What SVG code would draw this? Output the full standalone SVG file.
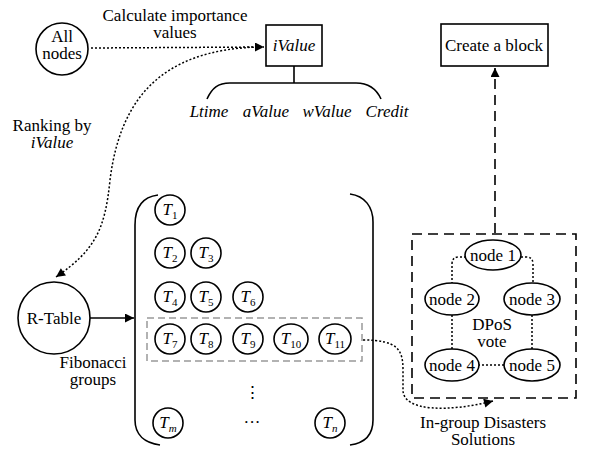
<svg xmlns="http://www.w3.org/2000/svg" width="592" height="455" viewBox="0 0 592 455" font-family="'Liberation Serif', Tinos, 'DejaVu Serif', 'Noto Serif', serif">
<style>
text{font-family:"Liberation Serif",Tinos,"DejaVu Serif",serif;font-size:17px;fill:#000;text-anchor:middle}
.it{font-style:italic}
.sub{font-size:11px;font-style:normal}
.subi{font-size:11px;font-style:italic}
.ln{fill:none;stroke:#000;stroke-width:1.6}
.shape{fill:#fff;stroke:#000;stroke-width:1.6}
.dot{fill:none;stroke:#000;stroke-width:1.5;stroke-dasharray:2 2}
.dash{fill:none;stroke:#000;stroke-width:1.6;stroke-dasharray:10 6}
.gray{fill:none;stroke:#999;stroke-width:1.5;stroke-dasharray:7 4}
</style>
<defs>
<marker id="ah" viewBox="0 0 10 10" refX="10" refY="5" markerWidth="10" markerHeight="9" markerUnits="userSpaceOnUse" orient="auto">
<path d="M0,0 L10,5 L0,10 z" fill="#000"/>
</marker>
</defs>

<g id="connectors">
<path class="dot" d="M91 48 L264 47" marker-end="url(#ah)"/>
<path class="dot" d="M258 47 C160 50 120 100 110 180 C105 230 95 250 56 277" marker-end="url(#ah)"/>
<path class="ln" d="M90 318 L134 318" marker-end="url(#ah)"/>
<path class="dot" d="M363 340 C398 340 403 350 403 370 L403 390 C403 412 450 412 493 401" marker-end="url(#ah)"/>
<path class="dash" d="M495 233 L495 68" marker-end="url(#ah)"/>
<path class="ln" d="M294 66 V83 M207 99 C212 88 218 83 230 83 H356 C368 83 376 88 381 99"/>
<path class="dot" d="M466 257 H459 Q452 257 452 264 V283 M521 257 H526 Q533 257 533 264 V283 M452 315 V349 M532 315 V349 M478 365 H505"/>
</g>

<g id="calc-label"><text x="175" y="21">Calculate importance</text><text x="175" y="38">values</text></g>
<g id="all-nodes"><circle class="shape" cx="62" cy="49" r="26"/><text x="62" y="42">All</text><text x="62" y="59">nodes</text></g>
<g id="ivalue"><rect class="shape" x="266" y="25" width="56" height="41"/><text class="it" x="294" y="51">iValue</text></g>
<g id="ivalue-parts">
<text class="it" x="209" y="117">Ltime</text>
<text class="it" x="266" y="117">aValue</text>
<text class="it" x="327" y="117">wValue</text>
<text class="it" x="387" y="117">Credit</text>
</g>
<g id="create-block"><rect class="shape" x="441" y="24" width="107" height="42"/><text x="494" y="51">Create a block</text></g>
<g id="ranking-label"><text x="52" y="131">Ranking by</text><text class="it" x="52" y="148">iValue</text></g>
<g id="r-table"><circle class="shape" cx="54" cy="318" r="36"/><text x="54" y="324">R-Table</text></g>
<g id="fib-label"><text x="93" y="368">Fibonacci</text><text x="93" y="385">groups</text></g>

<g id="groups">
<path class="ln" d="M158 195 C142 197 135 208 135 225 L135 420 C135 435 145 443 160 445"/>
<path class="ln" d="M350 194 C365 196 373 207 373 222 L373 420 C373 435 365 443 350 445"/>
<rect class="gray" x="147" y="318" width="215" height="43"/>
<g id="t1"><circle class="shape" cx="170" cy="210" r="15"/><text class="it" x="170" y="215">T<tspan class="sub" dy="4">1</tspan></text></g>
<g id="t2"><circle class="shape" cx="170" cy="253" r="15"/><text class="it" x="170" y="258">T<tspan class="sub" dy="4">2</tspan></text></g>
<g id="t3"><circle class="shape" cx="206" cy="253" r="15"/><text class="it" x="206" y="258">T<tspan class="sub" dy="4">3</tspan></text></g>
<g id="t4"><circle class="shape" cx="170" cy="297" r="15"/><text class="it" x="170" y="302">T<tspan class="sub" dy="4">4</tspan></text></g>
<g id="t5"><circle class="shape" cx="206" cy="297" r="15"/><text class="it" x="206" y="302">T<tspan class="sub" dy="4">5</tspan></text></g>
<g id="t6"><circle class="shape" cx="248" cy="297" r="15"/><text class="it" x="248" y="302">T<tspan class="sub" dy="4">6</tspan></text></g>
<g id="t7"><circle class="shape" cx="170" cy="339" r="15"/><text class="it" x="170" y="344">T<tspan class="sub" dy="4">7</tspan></text></g>
<g id="t8"><circle class="shape" cx="206" cy="339" r="15"/><text class="it" x="206" y="344">T<tspan class="sub" dy="4">8</tspan></text></g>
<g id="t9"><circle class="shape" cx="248" cy="339" r="15"/><text class="it" x="248" y="344">T<tspan class="sub" dy="4">9</tspan></text></g>
<g id="t10"><ellipse class="shape" cx="291" cy="339" rx="17" ry="15"/><text class="it" x="291" y="344">T<tspan class="sub" dy="4">10</tspan></text></g>
<g id="t11"><ellipse class="shape" cx="335" cy="339" rx="16" ry="15"/><text class="it" x="335" y="344">T<tspan class="sub" dy="4">11</tspan></text></g>
<g id="tm"><circle class="shape" cx="168" cy="423" r="15"/><text class="it" x="168" y="428">T<tspan class="subi" dy="4">m</tspan></text></g>
<g id="tn"><circle class="shape" cx="330" cy="423" r="15"/><text class="it" x="330" y="428">T<tspan class="subi" dy="4">n</tspan></text></g>
<text x="252" y="398">⋮</text>
<text x="252" y="428">···</text>
</g>

<g id="dpos">
<rect class="dash" x="412" y="234" width="164" height="164"/>
<g id="node1"><ellipse class="shape" cx="493" cy="255" rx="28" ry="15"/><text x="493" y="261">node 1</text></g>
<g id="node2"><ellipse class="shape" cx="452" cy="299" rx="27" ry="16"/><text x="452" y="305">node 2</text></g>
<g id="node3"><ellipse class="shape" cx="532" cy="299" rx="28" ry="16"/><text x="532" y="305">node 3</text></g>
<g id="node4"><ellipse class="shape" cx="452" cy="365" rx="27" ry="16"/><text x="452" y="371">node 4</text></g>
<g id="node5"><ellipse class="shape" cx="532" cy="365" rx="28" ry="16"/><text x="532" y="371">node 5</text></g>
<text x="492" y="330">DPoS</text>
<text x="492" y="347">vote</text>
</g>
<g id="disaster-label"><text x="483" y="428">In-group Disasters</text><text x="483" y="445">Solutions</text></g>
</svg>
